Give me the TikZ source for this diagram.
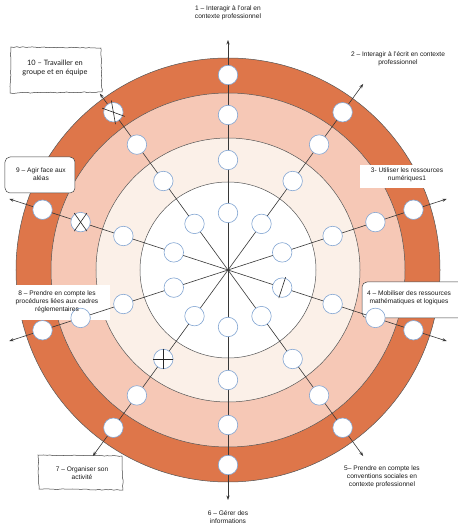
\documentclass[tikz,border=0pt]{standalone}
\usepackage{fontspec}
\setmainfont{Liberation Sans}
\newfontfamily\latofont{Lato}
\usetikzlibrary{arrows.meta,decorations.pathmorphing}
\definecolor{ringorange}{RGB}{222,118,74}
\definecolor{ringpink}{RGB}{246,200,182}
\definecolor{ringcream}{RGB}{251,240,232}
\definecolor{dotedge}{RGB}{130,165,210}
\definecolor{lineg}{RGB}{55,55,55}
\begin{document}
\begin{tikzpicture}[x=1pt,y=1pt,
  dot/.style={circle,draw=dotedge,fill=white,line width=0.6pt,minimum size=19.5pt,inner sep=0pt},
  spoke/.style={draw=lineg,line width=0.6pt,-{Stealth[length=4.5pt,width=3.2pt]}},
  ringline/.style={draw=lineg!85,line width=0.5pt},
  lbl/.style={font=\fontsize{6.6}{8}\selectfont,align=center,inner sep=1pt,text=black!90},
  biglbl/.style={font=\latofont\fontsize{7.4}{9}\selectfont,align=center,inner sep=1pt,text=black!90},
  sketchbox/.style={draw=black!75,line width=0.5pt,fill=white,decorate,decoration={random steps,segment length=3pt,amplitude=0.45pt}},
  roundbox/.style={draw=black!75,line width=0.5pt,fill=white,rounded corners=5pt},
  plainbox/.style={fill=white},
  xmark/.style={draw=black!85,line width=0.6pt}
]
\useasboundingbox (-228,-256) rectangle (229,270);
\fill[white] (-228,-256) rectangle (229,270);
% rings
\fill[ringorange] (0,0) circle (212);
\fill[ringpink] (0,0) circle (177);
\fill[ringcream] (0,0) circle (132);
\fill[white] (0,0) circle (88);
\foreach \r in {212,177,132,88} \draw[ringline] (0,0) circle (\r);
% label boxes
\path[sketchbox] (-217,223) -- (-127,222) -- (-126,178) -- (-218,177) -- cycle;
\path[roundbox] (-223,113) rectangle (-153,77);
\path[plainbox] (132,105) rectangle (226,82);
\path[roundbox] (134,-12) rectangle (236,-48);
\path[plainbox] (-218,-15) rectangle (-118,-50);
\path[sketchbox] (-190,-185) -- (-106,-186) -- (-105,-220) -- (-189,-219) -- cycle;
% spokes
\coordinate (O) at (0,0);
\foreach \k in {1,...,9} {
  \pgfmathsetmacro{\ang}{90-36*(\k-1)}
  \coordinate (a\k) at (\ang:230);
  \draw[spoke] (O) -- (a\k);
}
\coordinate (a10) at (126:218);
\draw[spoke] (O) -- (a10);
% dots
\foreach \k in {1,...,10} {
  \pgfmathsetmacro{\ang}{90-36*(\k-1)}
  \node[dot] (c\k-1) at (\ang:57) {};
  \node[dot] (c\k-2) at (\ang:110) {};
  \node[dot] (c\k-3) at (\ang:155) {};
  \node[dot] (c\k-4) at (\ang:195) {};
}
% marks
\draw[xmark] ([shift={(100:12)}]c10-4.center) -- ([shift={(280:12)}]c10-4.center);
\draw[xmark] ([shift={(160:12)}]c10-4.center) -- ([shift={(-20:12)}]c10-4.center);
\draw[xmark] ([shift={(55:11)}]c9-3.center) -- ([shift={(235:11)}]c9-3.center);
\draw[xmark] ([shift={(125:11)}]c9-3.center) -- ([shift={(305:11)}]c9-3.center);
\draw[xmark] ([shift={(72:11)}]c4-1.center) -- ([shift={(252:11)}]c4-1.center);
\draw[xmark] ([shift={(90:10)}]c7-2.center) -- ([shift={(270:10)}]c7-2.center);
\draw[xmark] ([shift={(0:10)}]c7-2.center) -- ([shift={(180:10)}]c7-2.center);
% labels
\node[lbl] (l1) at (0,257) {1 – Interagir à l'oral en\\contexte professionnel};
\node[lbl] (l2) at (170,211) {2 – Interagir à l'écrit en contexte\\professionnel};
\node[lbl] (l3) at (179,95) {3- Utiliser les ressources\\numériques1};
\node[lbl] (l4) at (181,-28) {4 – Mobiliser des ressources\\mathématiques et logiques};
\node[lbl] (l5) at (154,-207) {5– Prendre en compte les\\conventions sociales en\\contexte professionnel};
\node[lbl] (l6) at (0,-247) {6 – Gérer des\\informations};
\node[lbl] (l7) at (-146,-203) {7 – Organiser son\\activité};
\node[lbl] (l8) at (-171,-32) {8 – Prendre en compte les\\procédures liées aux cadres\\réglementaires};
\node[lbl] (l9) at (-187,96) {9 – Agir face aux\\aléas};
\node[biglbl] (l10) at (-173,202) {10 – Travailler en\\groupe et en équipe};
\end{tikzpicture}
\end{document}
